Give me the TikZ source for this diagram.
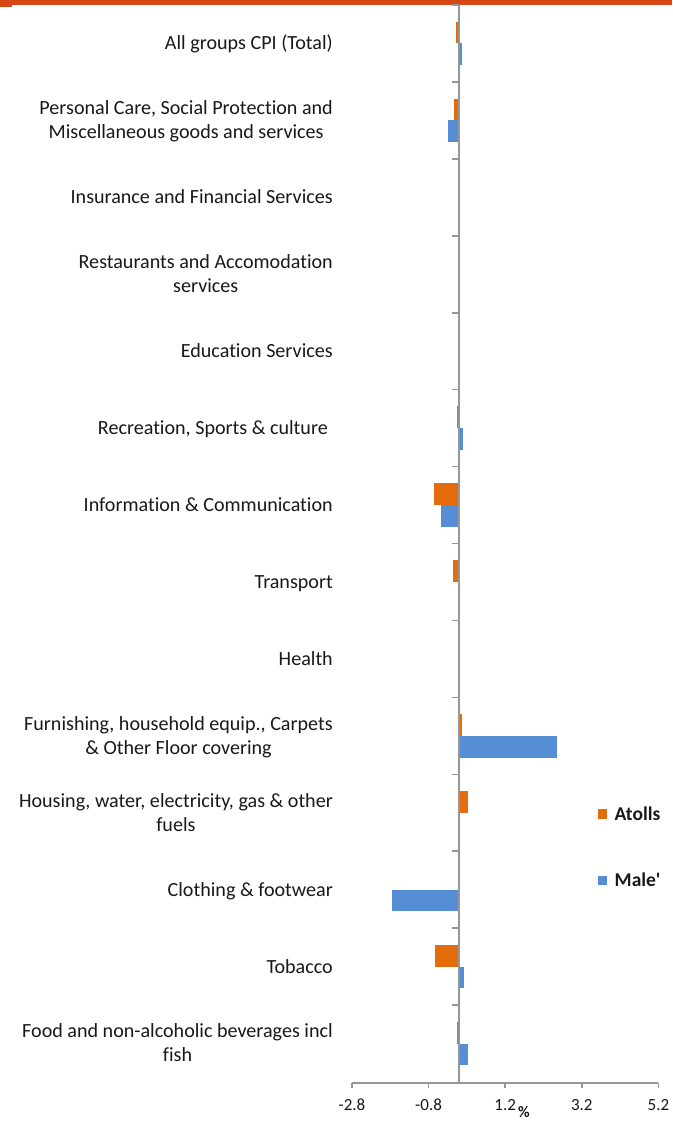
\documentclass[tikz,border=0pt]{standalone}
\usepackage{fontspec}
\setmainfont{Carlito}[Ligatures={NoCommon}]
\definecolor{topbar}{RGB}{213,72,22}
\definecolor{atoll}{RGB}{228,108,10}
\definecolor{male}{RGB}{85,142,213}
\definecolor{axisgray}{RGB}{150,150,150}
\definecolor{txt}{RGB}{25,25,25}
\begin{document}
\begin{tikzpicture}[x=1pt,y=-1pt,
  catlabel/.style={anchor=base east,inner sep=0pt,font=\fontsize{20.1}{24}\selectfont,text=txt},
  catline/.style={anchor=base,inner sep=0pt,font=\fontsize{20.1}{24}\selectfont,text=txt},
  ticklabel/.style={anchor=base,inner sep=0pt,font=\fontsize{17}{20}\selectfont,text=txt},
  legendtext/.style={anchor=base west,inner sep=0pt,font=\fontsize{19.5}{24}\selectfont\bfseries,text=txt},
  axisline/.style={draw=axisgray,line width=2pt},
  tickline/.style={draw=axisgray,line width=1.6pt}]
\useasboundingbox (0,0) rectangle (672,1121);
\fill[white] (0,0) rectangle (672,1121);
\fill[topbar] (0,0) rectangle (672,5);
\fill[topbar] (0,0) rectangle (12,7);
% bars
\foreach \k/\o/\b in {0/-0.07/0.08, 1/-0.12/-0.27, 2/0/0, 3/0/0, 4/0/0, 5/-0.04/0.12,
  6/-0.64/-0.46, 7/-0.14/0, 8/0/0, 9/0.09/2.56, 10/0.26/0, 11/0/-1.74, 12/-0.61/0.14, 13/-0.05/0.24}{
  \pgfmathsetmacro\c{5+76.93*(\k+0.5)}
  \fill[atoll] (458.5,\c-21.7) rectangle (458.5+38.3*\o,\c);
  \fill[male] (458.5,\c) rectangle (458.5+38.3*\b,\c+21.7);
}
% category ticks
\foreach \k in {0,...,13}{
  \draw[tickline] (452,5+76.93*\k) -- (458.5,5+76.93*\k);
}
% axes
\coordinate (ytop) at (458.5,5);
\coordinate (ybot) at (458.5,1082.5);
\coordinate (xl) at (352,1082.5);
\coordinate (xr) at (658.4,1082.5);
\draw[axisline] (ytop) -- (ybot);
\draw[axisline] (xl) -- (xr);
\foreach \i/\t in {0/-2.8,1/-0.8,2/1.2,3/3.2,4/5.2}{
  \draw[tickline] (352+76.6*\i,1082.5) -- (352+76.6*\i,1087.5);
  \node[ticklabel] (tl\i) at (352+76.6*\i,1110.5) {\t};
}
\node[ticklabel,font=\fontsize{16}{18}\selectfont\bfseries] (pct) at (524,1117) {\%};
% category labels
\node[catlabel] (c0) at (333,49.9) {All groups CPI (Total)};
\node[catlabel] (c1) at (333,114.8) {Personal Care, Social Protection and};
\node[catline] (c1b) at ([yshift=-24pt]c1.base) {Miscellaneous goods and services};
\node[catlabel] (c2) at (333,203.7) {Insurance and Financial Services};
\node[catlabel] (c3) at (333,268.6) {Restaurants and Accomodation};
\node[catline] (c3b) at ([yshift=-24pt]c3.base) {services};
\node[catlabel] (c4) at (333,357.6) {Education Services};
\node[catlabel] (c5) at (328,434.5) {Recreation, Sports \& culture};
\node[catlabel] (c6) at (333,511.4) {Information \& Communication};
\node[catlabel] (c7) at (333,588.4) {Transport};
\node[catlabel] (c8) at (333,665.3) {Health};
\node[catlabel] (c9) at (333,730.2) {Furnishing, household equip., Carpets};
\node[catline] (c9b) at ([yshift=-24pt]c9.base) {\& Other Floor covering};
\node[catlabel] (c10) at (333,807.1) {Housing, water, electricity, gas \& other};
\node[catline] (c10b) at ([yshift=-24pt]c10.base) {fuels};
\node[catlabel] (c11) at (333,896) {Clothing \& footwear};
\node[catlabel] (c12) at (333,973) {Tobacco};
\node[catlabel] (c13) at (333,1037.9) {Food and non-alcoholic beverages incl};
\node[catline] (c13b) at ([yshift=-24pt]c13.base) {fish};
% legend
\fill[atoll] (597.5,809) rectangle (607,818.5);
\node[legendtext] (la) at (614.5,820) {Atolls};
\fill[male] (597.5,875.5) rectangle (607,885);
\node[legendtext] (lm) at (614.5,886) {Male\textquotesingle};
\end{tikzpicture}
\end{document}
